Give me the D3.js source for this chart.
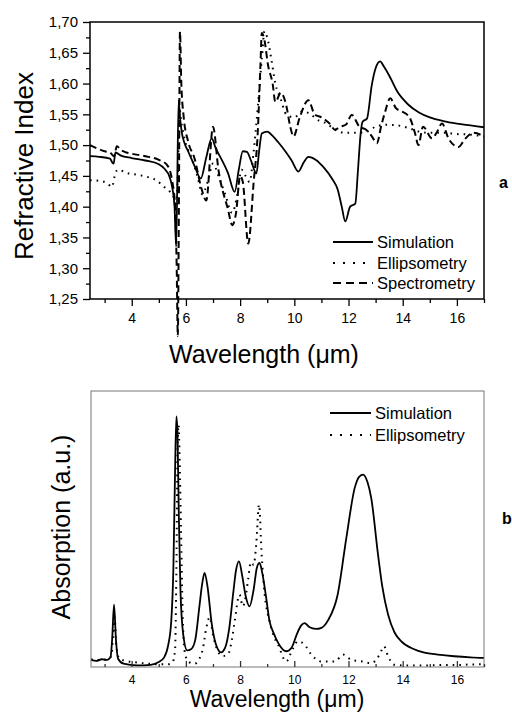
<!DOCTYPE html>
<html>
<head>
<meta charset="utf-8">
<script src="https://cdn.jsdelivr.net/npm/d3@7"></script>
<style>
  body { margin: 0; background: #fff; }
  svg text { font-family: "Liberation Sans", Arial, sans-serif; fill: #000; }
</style>
</head>
<body>
<div id="chart"></div>
<script>
// panel a : refractive index
var simIndexWl = [2.46, 2.8, 3.2, 3.28, 3.33, 3.4, 3.6, 4.0, 4.5, 5.0, 5.2, 5.4, 5.5, 5.58, 5.64, 5.73, 5.78, 5.85, 5.95, 6.1, 6.3, 6.55, 6.75, 6.95, 7.1, 7.3, 7.55, 7.8, 7.95, 8.1, 8.25, 8.4, 8.6, 8.7, 8.8, 9.0, 9.2, 9.4, 9.7, 9.9, 10.15, 10.35, 10.52, 10.8, 11.1, 11.4, 11.6, 11.75, 11.88, 12.06, 12.25, 12.35, 12.45, 12.52, 12.68, 12.86, 13.0, 13.17, 13.3, 13.5, 13.8, 14.2, 14.6, 15.0, 15.5, 16.0, 16.5, 17.0];
var simIndex = [1.482, 1.481, 1.478, 1.472, 1.470, 1.488, 1.483, 1.479, 1.475, 1.469, 1.462, 1.448, 1.430, 1.400, 1.335, 1.573, 1.545, 1.520, 1.503, 1.488, 1.468, 1.446, 1.480, 1.511, 1.495, 1.478, 1.455, 1.424, 1.460, 1.490, 1.489, 1.475, 1.454, 1.490, 1.519, 1.522, 1.515, 1.505, 1.488, 1.475, 1.457, 1.472, 1.481, 1.476, 1.463, 1.445, 1.428, 1.400, 1.376, 1.400, 1.405, 1.460, 1.520, 1.538, 1.543, 1.598, 1.625, 1.636, 1.628, 1.613, 1.587, 1.566, 1.553, 1.545, 1.539, 1.535, 1.532, 1.529];

var ellIndexWl = [2.46, 2.8, 3.1, 3.27, 3.4, 3.5, 3.8, 4.2, 4.6, 4.9, 5.2, 5.4, 5.55, 5.63, 5.7, 5.76, 5.82, 5.95, 6.2, 6.45, 6.6, 6.8, 7.0, 7.2, 7.45, 7.7, 7.9, 8.05, 8.2, 8.35, 8.5, 8.65, 8.8, 8.9, 9.0, 9.15, 9.3, 9.5, 9.7, 10.0, 10.3, 10.6, 10.9, 11.2, 11.5, 11.9, 12.3, 12.7, 13.0, 13.4, 13.8, 14.2, 14.6, 15.0, 15.5, 16.0, 16.5, 17.0];
var ellIndex = [1.443, 1.442, 1.438, 1.432, 1.455, 1.460, 1.455, 1.452, 1.448, 1.443, 1.432, 1.425, 1.415, 1.400, 1.450, 1.560, 1.540, 1.510, 1.480, 1.445, 1.420, 1.440, 1.470, 1.450, 1.420, 1.390, 1.420, 1.460, 1.450, 1.440, 1.490, 1.560, 1.640, 1.685, 1.675, 1.640, 1.600, 1.575, 1.550, 1.545, 1.555, 1.550, 1.540, 1.535, 1.525, 1.520, 1.520, 1.522, 1.530, 1.533, 1.532, 1.528, 1.522, 1.520, 1.520, 1.518, 1.517, 1.514];

var specIndexWl = [2.46, 2.7, 3.0, 3.2, 3.35, 3.45, 3.6, 3.8, 4.0, 4.5, 5.0, 5.3, 5.5, 5.6, 5.66, 5.7, 5.74, 5.78, 5.83, 5.91, 6.08, 6.32, 6.57, 6.75, 7.0, 7.2, 7.55, 7.71, 7.85, 8.0, 8.1, 8.3, 8.5, 8.65, 8.75, 8.8, 8.9, 9.03, 9.2, 9.3, 9.5, 9.7, 9.85, 9.97, 10.2, 10.52, 10.75, 11.0, 11.3, 11.5, 11.7, 11.9, 12.12, 12.4, 12.65, 12.85, 13.05, 13.2, 13.35, 13.54, 13.75, 13.95, 14.25, 14.45, 14.58, 14.75, 15.08, 15.25, 15.45, 15.7, 16.06, 16.3, 16.6, 17.0];
var specIndex = [1.500, 1.495, 1.490, 1.488, 1.482, 1.498, 1.492, 1.488, 1.486, 1.482, 1.476, 1.468, 1.440, 1.400, 1.300, 1.190, 1.400, 1.684, 1.600, 1.549, 1.506, 1.478, 1.430, 1.410, 1.530, 1.460, 1.396, 1.370, 1.390, 1.450, 1.440, 1.340, 1.440, 1.520, 1.630, 1.682, 1.670, 1.630, 1.600, 1.570, 1.585, 1.565, 1.530, 1.514, 1.545, 1.573, 1.550, 1.545, 1.535, 1.525, 1.530, 1.533, 1.549, 1.530, 1.525, 1.515, 1.503, 1.530, 1.554, 1.576, 1.560, 1.555, 1.545, 1.520, 1.500, 1.530, 1.511, 1.520, 1.535, 1.510, 1.497, 1.510, 1.520, 1.514];

// panel b : absorption (a.u.)
var simAbsWl = [2.5, 2.7, 2.9, 3.1, 3.22, 3.28, 3.35, 3.42, 3.5, 3.7, 4.2, 4.7, 5.0, 5.2, 5.35, 5.46, 5.54, 5.6, 5.65, 5.69, 5.74, 5.8, 5.9, 6.05, 6.2, 6.35, 6.5, 6.6, 6.69, 6.8, 6.95, 7.1, 7.3, 7.45, 7.6, 7.75, 7.85, 7.96, 8.08, 8.2, 8.35, 8.5, 8.62, 8.72, 8.82, 8.95, 9.08, 9.25, 9.45, 9.7, 9.9, 10.1, 10.25, 10.38, 10.55, 10.8, 11.0, 11.25, 11.6, 11.92, 12.23, 12.4, 12.54, 12.7, 12.84, 13.09, 13.25, 13.46, 13.7, 13.95, 14.4, 14.8, 15.3, 15.9, 16.5, 17.0];
var simAbs = [0.026, 0.022, 0.028, 0.026, 0.035, 0.100, 0.226, 0.100, 0.030, 0.012, 0.006, 0.008, 0.018, 0.035, 0.080, 0.165, 0.360, 0.700, 0.908, 0.850, 0.550, 0.280, 0.120, 0.060, 0.065, 0.100, 0.220, 0.300, 0.341, 0.290, 0.160, 0.085, 0.053, 0.070, 0.140, 0.270, 0.350, 0.383, 0.330, 0.260, 0.220, 0.280, 0.360, 0.377, 0.340, 0.260, 0.170, 0.120, 0.080, 0.057, 0.070, 0.120, 0.150, 0.159, 0.145, 0.138, 0.142, 0.170, 0.262, 0.467, 0.649, 0.690, 0.697, 0.670, 0.612, 0.407, 0.290, 0.190, 0.125, 0.093, 0.065, 0.052, 0.045, 0.039, 0.035, 0.033];

var ellAbsWl = [2.5, 2.8, 3.1, 3.25, 3.32, 3.37, 3.43, 3.55, 3.8, 4.2, 4.6, 5.0, 5.35, 5.5, 5.6, 5.65, 5.69, 5.73, 5.77, 5.82, 5.88, 5.95, 6.08, 6.32, 6.5, 6.63, 6.75, 6.88, 7.0, 7.18, 7.35, 7.55, 7.7, 7.8, 7.98, 8.1, 8.2, 8.3, 8.4, 8.5, 8.6, 8.7, 8.8, 8.91, 9.09, 9.25, 9.4, 9.7, 9.95, 10.13, 10.38, 10.63, 11.0, 11.5, 11.8, 12.1, 12.5, 12.84, 13.15, 13.31, 13.46, 13.7, 14.2, 14.7, 15.3, 15.9, 16.5, 17.0];
var ellAbs = [0.028, 0.025, 0.028, 0.040, 0.120, 0.180, 0.080, 0.030, 0.022, 0.016, 0.012, 0.010, 0.010, 0.015, 0.060, 0.350, 0.770, 0.878, 0.750, 0.500, 0.200, 0.060, 0.020, 0.012, 0.030, 0.067, 0.140, 0.180, 0.117, 0.057, 0.040, 0.045, 0.100, 0.165, 0.262, 0.220, 0.250, 0.320, 0.380, 0.370, 0.450, 0.588, 0.400, 0.262, 0.165, 0.110, 0.081, 0.020, 0.067, 0.093, 0.081, 0.045, 0.020, 0.020, 0.045, 0.026, 0.020, 0.014, 0.045, 0.075, 0.039, 0.008, 0.005, 0.005, 0.007, 0.007, 0.009, 0.010];

var xMajor = [4, 6, 8, 10, 12, 14, 16];
var xMinor = [3, 5, 7, 9, 11, 13, 15, 17];
var yMajor = [1.25, 1.30, 1.35, 1.40, 1.45, 1.50, 1.55, 1.60, 1.65, 1.70];
var yMinor = [1.275, 1.325, 1.375, 1.425, 1.475, 1.525, 1.575, 1.625, 1.675];

var svg = d3.select("#chart").append("svg")
  .attr("width", 512)
  .attr("height", 713);

var dotted = "1.6,5";
var dashed = "7,4";

function zip(xs, ys) {
  return xs.map(function(x, i) { return [x, ys[i]]; });
}

// ---------- panel a ----------
var xA = d3.scaleLinear().domain([2.46, 17]).range([90, 484]);
var yA = d3.scaleLinear().domain([1.25, 1.70]).range([299, 22]);

var lineA = d3.line()
  .x(d => xA(d[0]))
  .y(d => yA(d[1]))
  .curve(d3.curveMonotoneX);

svg.append("path").datum(zip(ellIndexWl, ellIndex))
  .attr("d", lineA).attr("fill", "none").attr("stroke", "#000")
  .attr("stroke-width", 2).attr("stroke-dasharray", dotted);
svg.append("path").datum(zip(specIndexWl, specIndex))
  .attr("d", lineA).attr("fill", "none").attr("stroke", "#000")
  .attr("stroke-width", 2).attr("stroke-dasharray", dashed);
svg.append("path").datum(zip(simIndexWl, simIndex))
  .attr("d", lineA).attr("fill", "none").attr("stroke", "#000")
  .attr("stroke-width", 1.8);

svg.append("rect")
  .attr("x", 90).attr("y", 22).attr("width", 394).attr("height", 277)
  .attr("fill", "none").attr("stroke", "#000").attr("stroke-width", 1.5);

function styleAxis(g, color) {
  g.select(".domain").remove();
  g.selectAll(".tick line").attr("stroke", color).attr("stroke-width", 1.3);
}

var axA_x = svg.append("g").attr("transform", "translate(0,299)")
  .call(d3.axisBottom(xA).tickValues(xMajor).tickSize(7).tickPadding(7).tickFormat(d3.format("d")));
styleAxis(axA_x, "#000");
axA_x.selectAll("text").attr("font-size", 14).attr("font-family", "Liberation Sans");
var axA_xm = svg.append("g").attr("transform", "translate(0,299)")
  .call(d3.axisBottom(xA).tickValues(xMinor).tickSize(4).tickFormat(""));
styleAxis(axA_xm, "#000");

var commaFmt = d => d.toFixed(2).replace(".", ",");
var axA_y = svg.append("g").attr("transform", "translate(90,0)")
  .call(d3.axisLeft(yA).tickValues(yMajor).tickSize(7).tickPadding(5).tickFormat(commaFmt));
styleAxis(axA_y, "#000");
axA_y.selectAll("text").attr("font-size", 15).attr("font-family", "Liberation Sans");
var axA_ym = svg.append("g").attr("transform", "translate(90,0)")
  .call(d3.axisLeft(yA).tickValues(yMinor).tickSize(4).tickFormat(""));
styleAxis(axA_ym, "#000");

svg.append("text")
  .attr("transform", "translate(33,166) rotate(-90)")
  .attr("text-anchor", "middle").attr("font-size", 26)
  .text("Refractive Index");
svg.append("text")
  .attr("x", 264).attr("y", 363)
  .attr("text-anchor", "middle").attr("font-size", 25)
  .text("Wavelength (\u03bcm)");
svg.append("text")
  .attr("x", 499).attr("y", 188)
  .attr("font-size", 16).attr("font-weight", "bold")
  .text("a");

var legA = [
  { name: "Simulation", dash: null, y: 242 },
  { name: "Ellipsometry", dash: "2,8", y: 263 },
  { name: "Spectrometry", dash: "8,5", y: 283 }
];
legA.forEach(function(l) {
  svg.append("line")
    .attr("x1", 333).attr("x2", 373).attr("y1", l.y).attr("y2", l.y)
    .attr("stroke", "#000").attr("stroke-width", 2)
    .attr("stroke-dasharray", l.dash);
  svg.append("text")
    .attr("x", 377).attr("y", l.y + 6)
    .attr("font-size", 16.5)
    .text(l.name);
});

// ---------- panel b ----------
var xB = d3.scaleLinear().domain([2.5, 17]).range([91, 484]);
var yB = d3.scaleLinear().domain([0, 1]).range([667, 391]);

var lineB = d3.line()
  .x(d => xB(d[0]))
  .y(d => yB(d[1]))
  .curve(d3.curveMonotoneX);

svg.append("path").datum(zip(ellAbsWl, ellAbs))
  .attr("d", lineB).attr("fill", "none").attr("stroke", "#000")
  .attr("stroke-width", 2).attr("stroke-dasharray", dotted);
svg.append("path").datum(zip(simAbsWl, simAbs))
  .attr("d", lineB).attr("fill", "none").attr("stroke", "#000")
  .attr("stroke-width", 1.8);

svg.append("rect")
  .attr("x", 91).attr("y", 391).attr("width", 393).attr("height", 276)
  .attr("fill", "none").attr("stroke", "#777").attr("stroke-width", 1);

var axB_x = svg.append("g").attr("transform", "translate(0,667)")
  .call(d3.axisBottom(xB).tickValues(xMajor).tickSizeInner(-6).tickSizeOuter(0).tickPadding(8).tickFormat(d3.format("d")));
styleAxis(axB_x, "#333");
axB_x.selectAll("text").attr("font-size", 12).attr("font-family", "Liberation Sans");
var axB_xm = svg.append("g").attr("transform", "translate(0,667)")
  .call(d3.axisBottom(xB).tickValues(xMinor).tickSizeInner(-3).tickSizeOuter(0).tickFormat(""));
styleAxis(axB_xm, "#333");

svg.append("text")
  .attr("transform", "translate(70,527) rotate(-90)")
  .attr("text-anchor", "middle").attr("font-size", 25)
  .text("Absorption (a.u.)");
svg.append("text")
  .attr("x", 277).attr("y", 707)
  .attr("text-anchor", "middle").attr("font-size", 23)
  .text("Wavelength (\u03bcm)");
svg.append("text")
  .attr("x", 502).attr("y", 524)
  .attr("font-size", 16).attr("font-weight", "bold")
  .text("b");

var legB = [
  { name: "Simulation", dash: null, y: 413 },
  { name: "Ellipsometry", dash: "2,8", y: 435 }
];
legB.forEach(function(l) {
  svg.append("line")
    .attr("x1", 330).attr("x2", 371).attr("y1", l.y).attr("y2", l.y)
    .attr("stroke", "#000").attr("stroke-width", 2)
    .attr("stroke-dasharray", l.dash);
  svg.append("text")
    .attr("x", 375).attr("y", l.y + 6)
    .attr("font-size", 16.5)
    .text(l.name);
});
</script>
</body>
</html>
